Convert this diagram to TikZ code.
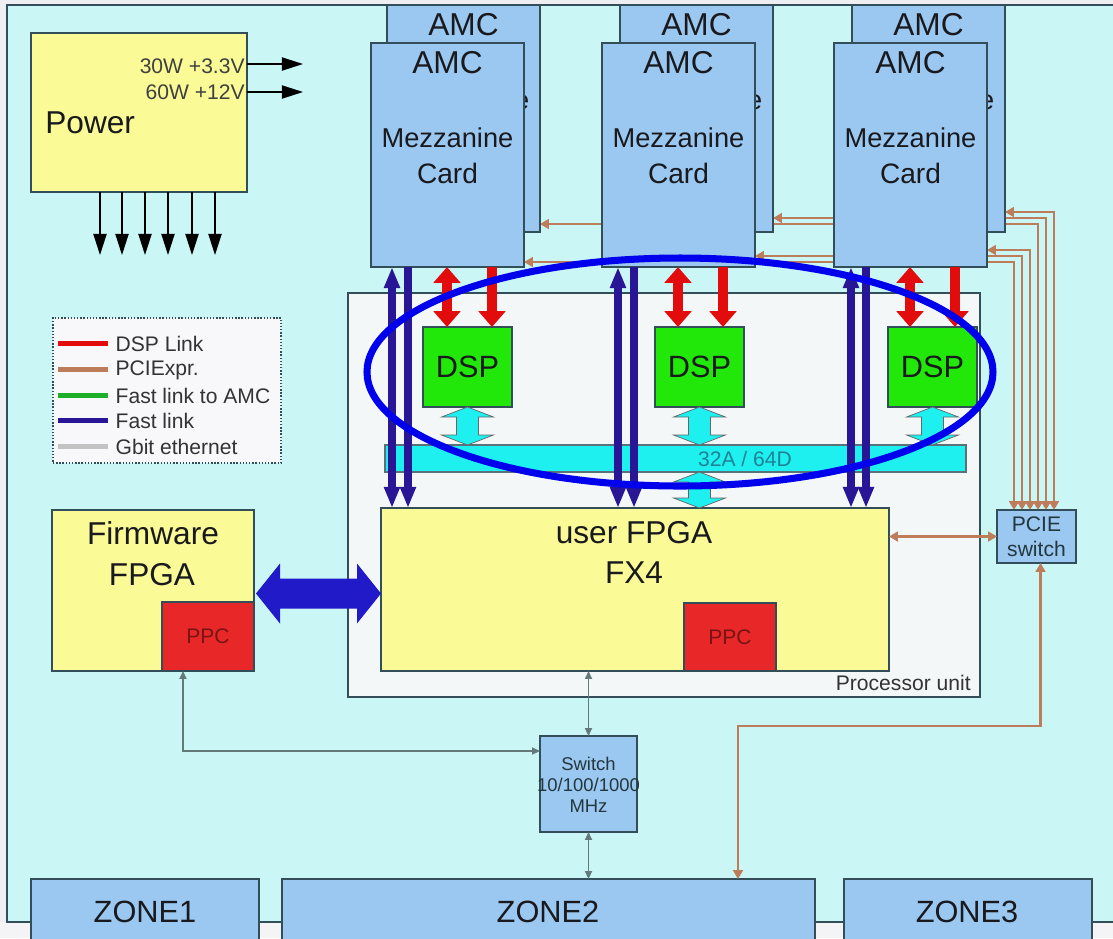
\documentclass[tikz,border=0pt]{standalone}
\usepackage{fontspec}
\setmainfont{Liberation Sans}
\usetikzlibrary{arrows.meta,calc,fit}
\definecolor{outerg}{RGB}{238,238,243}
\definecolor{bottomg}{RGB}{244,244,246}
\definecolor{panel}{RGB}{202,246,246}
\definecolor{boxline}{RGB}{50,78,88}
\definecolor{yellowc}{RGB}{250,250,150}
\definecolor{amc}{RGB}{155,200,240}
\definecolor{procf}{RGB}{244,247,247}
\definecolor{dspg}{RGB}{34,232,10}
\definecolor{cyanc}{RGB}{30,240,240}
\definecolor{ppcred}{RGB}{232,40,40}
\definecolor{redarr}{RGB}{226,12,12}
\definecolor{fastb}{RGB}{40,22,150}
\definecolor{bigb}{RGB}{32,26,200}
\definecolor{ellb}{RGB}{0,0,236}
\definecolor{brownc}{RGB}{190,125,90}
\definecolor{grayl}{RGB}{100,122,122}
\definecolor{txtc}{RGB}{25,25,30}
\definecolor{ppct}{RGB}{120,20,20}
\definecolor{bustxt}{RGB}{30,130,150}
\definecolor{greenl}{RGB}{30,175,40}
\definecolor{gbit}{RGB}{195,195,195}
\definecolor{legf}{RGB}{248,248,250}
\pgfdeclarelayer{base}
\pgfdeclarelayer{wires}
\pgfsetlayers{base,wires,main}
\begin{document}
\begin{tikzpicture}[x=0.02cm,y=-0.02cm,
  box/.style={draw=boxline, line width=0.9pt, inner sep=0pt, outer sep=0pt},
  txt/.style={inner sep=0pt, text=txtc},
  fs/.style={font=\fontsize{#1}{#1}\selectfont},
  blk/.style={draw=black, line width=0.8pt, -{Triangle[length=12pt,width=7.5pt]}},
  redone/.style={draw=redarr, line width=6pt, -{Triangle[length=9pt,width=15pt]}},
  redtwo/.style={draw=redarr, line width=6pt, {Triangle[length=9pt,width=15pt]}-{Triangle[length=9pt,width=15pt]}},
  fastone/.style={draw=fastb, line width=4.3pt, -{Triangle[length=12pt,width=8.5pt]}},
  fasttwo/.style={draw=fastb, line width=4.3pt, {Triangle[length=12pt,width=8.5pt]}-{Triangle[length=12pt,width=8.5pt]}},
  fat/.style={fill=cyanc, draw=black!60, line width=0.4pt},
  pcie/.style={draw=brownc, line width=1.4pt, {Triangle[length=5pt,width=5.5pt]}-{Triangle[length=5pt,width=5.5pt]}},
  gbl/.style={draw=grayl, line width=0.9pt, {Triangle[length=4.5pt,width=4pt]}-{Triangle[length=4.5pt,width=4pt]}},
  legl/.style={line width=2.8pt}
]
\useasboundingbox (0,0) rectangle (1113,938);

\begin{pgfonlayer}{base}
  \fill[outerg] (0,0) rectangle (1113,938);
  \fill[bottomg] (0,922) rectangle (1113,938);
  \filldraw[fill=panel, draw=boxline, line width=0.8pt] (7,5) rectangle (1140,922);
\end{pgfonlayer}

% ---------- Power ----------
\node[box, fill=yellowc, fit={(31,33)(247,192)}] (power) {};
\node[txt, fs=18, anchor=west] (powert) at (45,123) {Power};
\node[txt, fs=12, anchor=east, text=black!75] (p33) at (245,66) {30W +3.3V};
\node[txt, fs=12, anchor=east, text=black!75] (p12) at (245,92) {60W +12V};
\coordinate (pr) at (303,0);
\coordinate (pend) at (0,255);
\path ($(power.north east)+(0,31)$) coordinate (pa);
\path ($(power.north east)+(0,59)$) coordinate (pb);
\draw[blk] (pa) -- (pa -| pr);
\draw[blk] (pb) -- (pb -| pr);
\foreach \x in {100,122,145,168,192,215} {
  \path ($(power.south west)+(\x-31,0)$) coordinate (pd);
  \draw[blk] (pd) -- (pd |- pend);
}

% ---------- AMC cards (back row) ----------
\foreach \n/\xa in {b1/387,b2/620,b3/852} {
  \node[box, fill=amc, fit={(\xa,5)(\xa+153,232)}] (\n) {};
  \node[txt, fs=18] (\n a) at ($(\n.north)+(0,20)$) {AMC};
  \node[txt, fs=15.5] (\n m) at ($(\n.north)+(0,95)$) {Mezzanine};
}
% ---------- AMC cards (front row) ----------
\foreach \n/\xa in {f1/371,f2/602,f3/834} {
  \node[box, fill=amc, fit={(\xa,43)(\xa+153,267)}] (\n) {};
  \node[txt, fs=18] (\n a) at ($(\n.north)+(0,20)$) {AMC};
  \node[txt, fs=15.5] (\n m) at ($(\n.north)+(0,95)$) {Mezzanine};
  \node[txt, fs=16] (\n c) at ($(\n.north)+(0,130)$) {Card};
}

% ---------- Legend ----------
\node[draw=boxline, densely dotted, line width=0.8pt, fill=legf, inner sep=0pt, fit={(53,318)(281,463)}] (legend) {};
\foreach \yy/\cc/\tt in {344/redarr/DSP Link, 370/brownc/PCIExpr., 396/greenl/Fast link to AMC, 421/fastb/Fast link, 447/gbit/Gbit ethernet} {
  \path ($(legend.north west)+(6,\yy-318)$) coordinate (la);
  \path ($(legend.north west)+(56,\yy-318)$) coordinate (lb);
  \draw[legl, draw=\cc] (la) -- (lb);
  \node[txt, fs=12, anchor=west, text=black!80] at ($(lb)+(7,1)$) {\tt};
}

% ---------- Processor unit ----------
\node[box, fill=procf, fit={(348,293)(980,697)}] (proc) {};
\node[txt, fs=12, anchor=east, text=black!80] (proct) at ($(proc.south east)+(-9,-14)$) {Processor unit};

\node[box, fill=dspg, fit={(423,327)(512,407)}] (d1) {};
\node[box, fill=dspg, fit={(655,327)(744,407)}] (d2) {};
\node[box, fill=dspg, fit={(888,327)(977,407)}] (d3) {};
\foreach \d in {d1,d2,d3} { \node[txt, fs=17.5] at (\d.center) {DSP}; }

\node[box, fill=cyanc, draw=boxline!80, fit={(385,445)(966,472)}] (bus) {};
\node[txt, fs=12, text=bustxt] (bust) at (745,459) {32A / 64D};

\node[box, fill=yellowc, fit={(381,508)(889,671)}] (fpga) {};
\node[txt, fs=18] (fpgat1) at (634,533) {user FPGA};
\node[txt, fs=18] (fpgat2) at (634,573) {FX4};
\node[box, fill=ppcred, fit={(684,603)(776,671)}] (ppc2) {};
\node[txt, fs=12, text=ppct] at (ppc2.center) {PPC};

% fat cyan double arrows
\newcommand\fatarrow[2]{%
  \filldraw[fat] (#1) -- ++(26,10) -- ++(-15,0) -- ($(#2)+(11,-10)$) -- ++(15,0) -- (#2)
    -- ++(-26,-10) -- ++(15,0) -- ($(#1)+(-11,10)$) -- ++(-15,0) -- cycle;}
\foreach \d in {d1,d2,d3} {
  \coordinate (fa) at (\d.south);
  \coordinate (fb) at (\d.south |- bus.north);
  \fatarrow{fa}{fb}
}
\coordinate (fc) at (bus.south -| d2.south);
\coordinate (fd) at (fpga.north -| d2.south);
\fatarrow{fc}{fd}

% red and blue links
\foreach \c/\d/\ba/\bb in {f1/d1/21/37, f2/d2/16/32, f3/d3/17/32} {
  \path ($(\c.south west)+(76,0)$) coordinate (rl);
  \path ($(\c.south west)+(121,0)$) coordinate (rr);
  \path ($(\c.south west)+(\ba,0)$) coordinate (bl);
  \path ($(\c.south west)+(\bb,0)$) coordinate (br);
  \draw[redtwo] (rl) -- (rl |- \d.north);
  \draw[redone] (rr) -- (rr |- \d.north);
  \draw[fasttwo] (bl) -- (bl |- fpga.north);
  \draw[fastone] (br) -- (br |- fpga.north);
}

% ---------- Firmware FPGA ----------
\node[box, fill=yellowc, fit={(52,510)(254,671)}] (fw) {};
\node[txt, fs=18] (fwt1) at (153,533) {Firmware};
\node[txt, fs=18] (fwt2) at (152,575) {FPGA};
\node[box, fill=ppcred, fit={(162,602)(254,671)}] (ppc1) {};
\node[txt, fs=12, text=ppct] at (ppc1.center) {PPC};

\coordinate (ba) at ($(fw.east)+(2,3)$);
\coordinate (bb) at (ba -| fpga.west);
\fill[bigb] (ba) -- ++(24,-30) -- ++(0,15) -- ($(bb)+(-24,-15)$) -- ++(0,-15) -- (bb)
   -- ++(-24,30) -- ++(0,-15) -- ($(ba)+(24,15)$) -- ++(0,15) -- cycle;

% ---------- PCIE switch ----------
\node[box, fill=amc, fit={(997,510)(1076,563)}] (pcie) {};
\node[txt, align=center, text=boxline!70!black, font=\fontsize{12}{14}\selectfont] at (pcie.center) {PCIE\\switch};
\draw[pcie] (pcie.west -| fpga.east) -- (pcie.west);

\begin{pgfonlayer}{wires}
\foreach \c/\yy/\xt in {b3/212/1054, b2/218/1046, b1/224/1038, f3/250/1030, f2/256/1022, f1/262/1014} {
  \coordinate (k) at (\xt,\yy);
  \draw[pcie] (k -| \c.east) -- (k) -- (k |- pcie.north);
}
\end{pgfonlayer}

% ---------- Ethernet switch and zones ----------
\node[box, fill=amc, fit={(540,736)(637,832)}] (sw) {};
\node[txt, align=center, text=boxline!70!black, font=\fontsize{10.5}{12}\selectfont] (swt) at ($(sw.center)+(0,1)$) {Switch\\10/100/1000\\MHz};

\node[box, fill=amc, fit={(31,879)(259,960)}] (z1) {};
\node[box, fill=amc, fit={(282,879)(815,960)}] (z2) {};
\node[box, fill=amc, fit={(844,879)(1092,960)}] (z3) {};
\node[txt, fs=17.5] at (145,912) {ZONE1};
\node[txt, fs=17.5] at (548,912) {ZONE2};
\node[txt, fs=17.5] at (967,912) {ZONE3};

\draw[gbl] (sw.north |- fpga.south) -- (sw.north);
\draw[gbl] (sw.south) -- (sw.south |- z2.north);
\path ($(ppc1.south west)+(21,0)$) coordinate (ga);
\coordinate (gc) at (0,751);
\draw[gbl] (ga) -- (ga |- gc) -- (gc -| sw.west);

\path ($(pcie.south)+(4,0)$) coordinate (pa1);
\coordinate (pc1) at (738,726);
\draw[pcie] (pa1) -- (pa1 |- pc1) -- (pc1) -- (pc1 |- z2.north);

% ---------- Ellipse ----------
\draw[ellb, line width=4pt] (680,372) ellipse [x radius=313, y radius=114];
\end{tikzpicture}
\end{document}
